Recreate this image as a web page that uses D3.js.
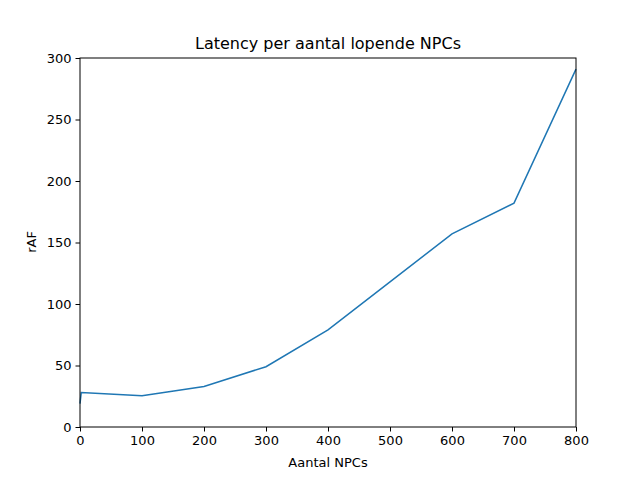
<!DOCTYPE html>
<html><head><meta charset="utf-8">
<script src="https://cdn.jsdelivr.net/npm/d3@7"></script>
<style>body{margin:0;background:#fff}text{font-family:"DejaVu Sans",sans-serif}</style>
</head><body><svg width="640" height="480"></svg>
<script>
var npcs = [0, 2, 100, 200, 300, 400, 500, 600, 700, 800];
var raf = [19, 28, 25.5, 33, 49, 79, 118, 157, 182, 291];
var xTicks = [0, 100, 200, 300, 400, 500, 600, 700, 800];
var yTicks = [0, 50, 100, 150, 200, 250, 300];

var svg = d3.select('svg');
var x = d3.scaleLinear().domain([0, 800]).range([80, 576]);
var y = d3.scaleLinear().domain([0, 300]).range([427, 58]);

// line
svg.append('path')
    .datum(npcs.map(function(d, i) { return [d, raf[i]]; }))
    .attr('fill', 'none').attr('stroke', '#1f77b4').attr('stroke-width', 1.5)
    .attr('d', d3.line().x(function(d) { return x(d[0]); }).y(function(d) { return y(d[1]); }));

var xaxis = svg.append('g').attr('transform', 'translate(0,427)')
    .call(d3.axisBottom(x).tickValues(xTicks).tickSize(4.5).tickPadding(4).tickSizeOuter(0));
var yaxis = svg.append('g').attr('transform', 'translate(80,0)')
    .call(d3.axisLeft(y).tickValues(yTicks).tickSize(4.5).tickPadding(4).tickSizeOuter(0));
[xaxis, yaxis].forEach(function(a) {
    a.selectAll('text').attr('font-size', 13).attr('fill', '#000').style('font-family', 'DejaVu Sans');
    a.selectAll('line').attr('stroke', '#000');
    a.select('.domain').remove();
});
// frame
svg.append('rect').attr('x', 80).attr('y', 58).attr('width', 496).attr('height', 369)
    .attr('fill', 'none').attr('stroke', '#000').attr('stroke-width', 1);

svg.append('text').attr('x', 328).attr('y', 49).attr('text-anchor', 'middle')
    .attr('font-size', 16).text('Latency per aantal lopende NPCs');
svg.append('text').attr('x', 328).attr('y', 467).attr('text-anchor', 'middle')
    .attr('font-size', 13).text('Aantal NPCs');
svg.append('text').attr('transform', 'translate(36,242) rotate(-90)').attr('text-anchor', 'middle')
    .attr('font-size', 13).text('rAF');
</script></body></html>
